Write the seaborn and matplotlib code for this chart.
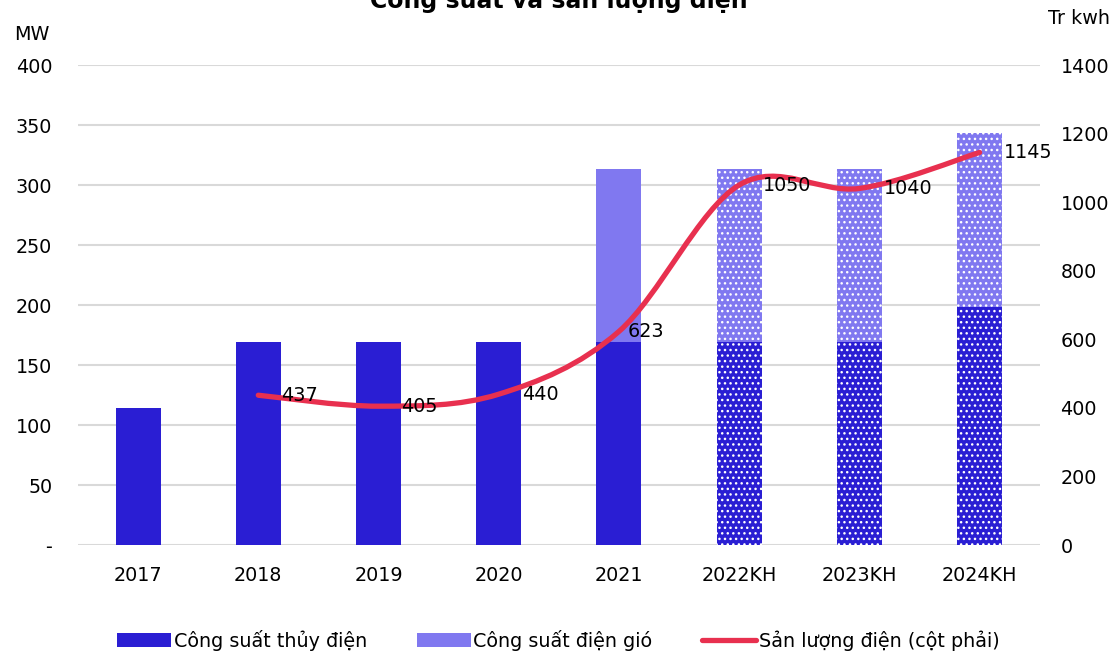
import matplotlib
matplotlib.use("Agg")
import matplotlib.pyplot as plt
import seaborn as sns
import pandas as pd
from matplotlib.path import Path
from matplotlib.patches import PathPatch, Patch
from matplotlib.lines import Line2D

# Data
years = ['2017', '2018', '2019', '2020', '2021', '2022KH', '2023KH', '2024KH']
hydro_mw = [114, 169, 169, 169, 169, 169, 169, 198]
wind_mw = [0, 0, 0, 0, 144, 144, 144, 145]
output_years = ['2018', '2019', '2020', '2021', '2022KH', '2023KH', '2024KH']
output_kwh = [437, 405, 440, 623, 1050, 1040, 1145]
planned = ['2022KH', '2023KH', '2024KH']

c_hydro = '#2A1ED3'
c_wind = '#8078F0'
c_line = '#E8304F'

sns.set_style('white')
plt.rcParams['font.family'] = ['DejaVu Sans']
plt.rcParams['text.color'] = 'black'
plt.rcParams['hatch.color'] = 'white'
plt.rcParams['hatch.linewidth'] = 1.0
fs = 13.8

df = pd.DataFrame({'year': years, 'hydro': hydro_mw, 'wind': wind_mw})
df['total'] = df['hydro'] + df['wind']

fig = plt.figure(figsize=(11.17, 6.52), dpi=100)
ax = fig.add_axes([0.0698, 0.164, 0.861, 0.7363])

sns.barplot(data=df, x='year', y='total', color=c_wind, saturation=1,
            width=0.375, ax=ax, zorder=2)
sns.barplot(data=df, x='year', y='hydro', color=c_hydro, saturation=1,
            width=0.375, ax=ax, zorder=3)

# dotted pattern on planned bars
n = len(years)
for i, p in enumerate(ax.patches):
    p.set_linewidth(0)
    if years[i % n] in planned:
        p.set_hatch('...')
        p.set_edgecolor('white')
        if hasattr(p, 'set_hatchcolor'):
            p.set_hatchcolor('white')

ax.set_ylim(0, 400)
ax.set_xlim(-0.5, n - 0.5)
ax.set_yticks(range(0, 401, 50))
ax.set_yticklabels(['-'] + [str(v) for v in range(50, 401, 50)])
ax.grid(axis='y', color='#D9D9D9', linewidth=1.5, zorder=0)
ax.set_axisbelow(True)
ax.set_xlabel('')
ax.set_ylabel('')
for s in ax.spines.values():
    s.set_visible(False)
ax.tick_params(axis='y', length=0, pad=18.5, labelsize=fs, labelcolor='black')
ax.tick_params(axis='x', length=0, pad=15, labelsize=fs, labelcolor='black')

# secondary axis for output
ax2 = ax.twinx()
ax2.set_ylim(0, 1400)
ax2.set_yticks(range(0, 1401, 200))
ax2.tick_params(axis='y', length=0, pad=15, labelsize=fs, labelcolor='black')
for s in ax2.spines.values():
    s.set_visible(False)

xs = [years.index(y) for y in output_years]
pts = list(zip(xs, output_kwh))
# smoothed line (Excel-style cubic Bezier through the points)
verts = [pts[0]]
codes = [Path.MOVETO]
for i in range(len(pts) - 1):
    p0 = pts[i - 1] if i > 0 else pts[i]
    p1 = pts[i]
    p2 = pts[i + 1]
    p3 = pts[i + 2] if i + 2 < len(pts) else pts[i + 1]
    c1 = (p1[0] + (p2[0] - p0[0]) / 6, p1[1] + (p2[1] - p0[1]) / 6)
    c2 = (p2[0] - (p3[0] - p1[0]) / 6, p2[1] - (p3[1] - p1[1]) / 6)
    verts += [c1, c2, p2]
    codes += [Path.CURVE4] * 3
ax2.add_patch(PathPatch(Path(verts, codes), facecolor='none', edgecolor=c_line,
                        linewidth=3.8, capstyle='round', joinstyle='round', zorder=4))

offsets = [0.19, 0.19, 0.19, 0.07, 0.2, 0.2, 0.2]
for (x, v), off in zip(pts, offsets):
    ax2.text(x + off, v, str(v), ha='left', va='center', fontsize=fs, zorder=5)

fig.text(0.0125, 0.947, 'MW', fontsize=fs, ha='left', va='center')
fig.text(0.938, 0.972, 'Tr kwh', fontsize=fs, ha='left', va='center')
fig.text(0.5, 1 - 8 / 652, 'Công suất và sản lượng điện', fontsize=17,
         fontweight='bold', ha='center', va='baseline')

handles = [Patch(facecolor=c_hydro, edgecolor='none'),
           Patch(facecolor=c_wind, edgecolor='none'),
           Line2D([0], [0], color=c_line, linewidth=3.8, solid_capstyle='round')]
labels = ['Công suất thủy điện', 'Công suất điện gió', 'Sản lượng điện (cột phải)']
fig.legend(handles, labels, loc='center', bbox_to_anchor=(0.5, 0.018), ncol=3,
           frameon=False, fontsize=fs, handlelength=2.8, handleheight=0.8,
           handletextpad=0.15, columnspacing=2.6)

fig.savefig('out.png', dpi=100)
